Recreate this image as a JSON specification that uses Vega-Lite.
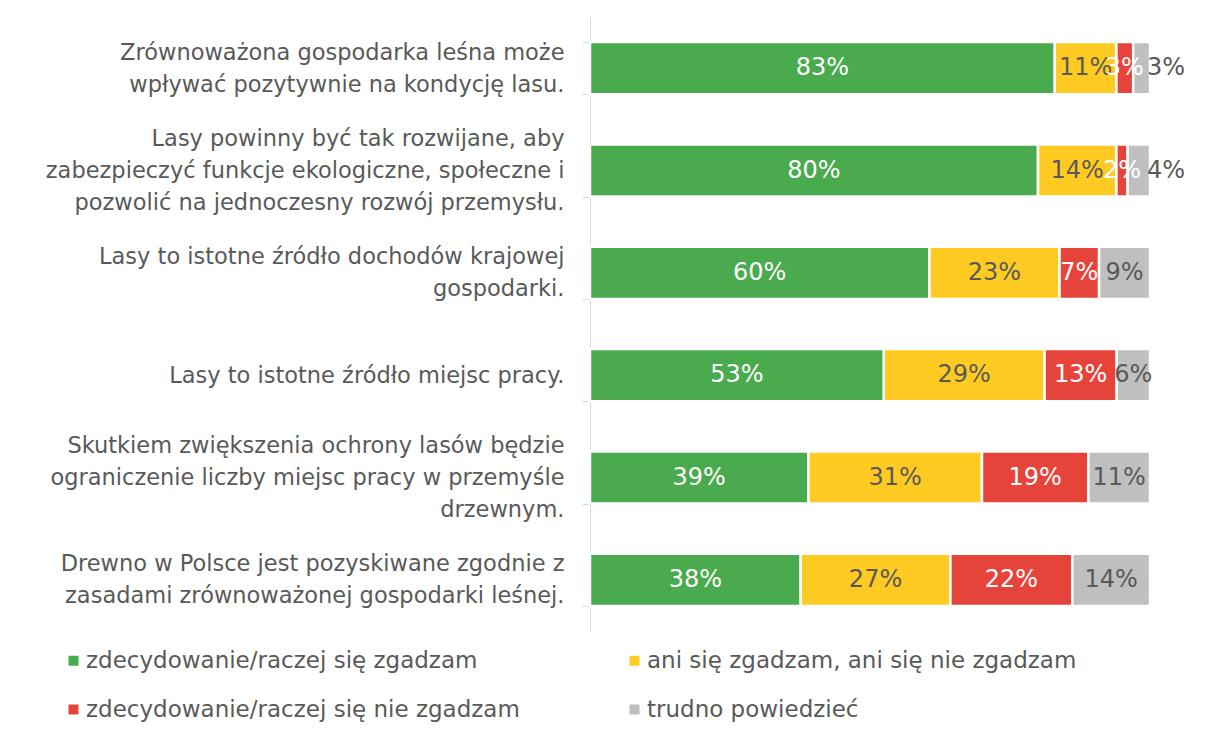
{
  "$schema": "https://vega.github.io/schema/vega-lite/v6.json",
  "autosize": "none",
  "width": 560,
  "height": 614,
  "padding": {"left": 590, "top": 17, "right": 55, "bottom": 106},
  "background": "white",
  "config": {"view": {"stroke": null}, "font": "DejaVu Sans"},
  "data": {"values": [
    {"statement": "Zrównoważona gospodarka leśna może|wpływać pozytywnie na kondycję lasu.", "cat": "zdecydowanie/raczej się zgadzam", "k": 1, "value": 83},
    {"statement": "Zrównoważona gospodarka leśna może|wpływać pozytywnie na kondycję lasu.", "cat": "ani się zgadzam, ani się nie zgadzam", "k": 2, "value": 11},
    {"statement": "Zrównoważona gospodarka leśna może|wpływać pozytywnie na kondycję lasu.", "cat": "zdecydowanie/raczej się nie zgadzam", "k": 3, "value": 3},
    {"statement": "Zrównoważona gospodarka leśna może|wpływać pozytywnie na kondycję lasu.", "cat": "trudno powiedzieć", "k": 4, "value": 3},
    {"statement": "Lasy powinny być tak rozwijane, aby|zabezpieczyć funkcje ekologiczne, społeczne i|pozwolić na jednoczesny rozwój przemysłu.", "cat": "zdecydowanie/raczej się zgadzam", "k": 1, "value": 80},
    {"statement": "Lasy powinny być tak rozwijane, aby|zabezpieczyć funkcje ekologiczne, społeczne i|pozwolić na jednoczesny rozwój przemysłu.", "cat": "ani się zgadzam, ani się nie zgadzam", "k": 2, "value": 14},
    {"statement": "Lasy powinny być tak rozwijane, aby|zabezpieczyć funkcje ekologiczne, społeczne i|pozwolić na jednoczesny rozwój przemysłu.", "cat": "zdecydowanie/raczej się nie zgadzam", "k": 3, "value": 2},
    {"statement": "Lasy powinny być tak rozwijane, aby|zabezpieczyć funkcje ekologiczne, społeczne i|pozwolić na jednoczesny rozwój przemysłu.", "cat": "trudno powiedzieć", "k": 4, "value": 4},
    {"statement": "Lasy to istotne źródło dochodów krajowej|gospodarki.", "cat": "zdecydowanie/raczej się zgadzam", "k": 1, "value": 60},
    {"statement": "Lasy to istotne źródło dochodów krajowej|gospodarki.", "cat": "ani się zgadzam, ani się nie zgadzam", "k": 2, "value": 23},
    {"statement": "Lasy to istotne źródło dochodów krajowej|gospodarki.", "cat": "zdecydowanie/raczej się nie zgadzam", "k": 3, "value": 7},
    {"statement": "Lasy to istotne źródło dochodów krajowej|gospodarki.", "cat": "trudno powiedzieć", "k": 4, "value": 9},
    {"statement": "Lasy to istotne źródło miejsc pracy.", "cat": "zdecydowanie/raczej się zgadzam", "k": 1, "value": 53},
    {"statement": "Lasy to istotne źródło miejsc pracy.", "cat": "ani się zgadzam, ani się nie zgadzam", "k": 2, "value": 29},
    {"statement": "Lasy to istotne źródło miejsc pracy.", "cat": "zdecydowanie/raczej się nie zgadzam", "k": 3, "value": 13},
    {"statement": "Lasy to istotne źródło miejsc pracy.", "cat": "trudno powiedzieć", "k": 4, "value": 6},
    {"statement": "Skutkiem zwiększenia ochrony lasów będzie|ograniczenie liczby miejsc pracy w przemyśle|drzewnym.", "cat": "zdecydowanie/raczej się zgadzam", "k": 1, "value": 39},
    {"statement": "Skutkiem zwiększenia ochrony lasów będzie|ograniczenie liczby miejsc pracy w przemyśle|drzewnym.", "cat": "ani się zgadzam, ani się nie zgadzam", "k": 2, "value": 31},
    {"statement": "Skutkiem zwiększenia ochrony lasów będzie|ograniczenie liczby miejsc pracy w przemyśle|drzewnym.", "cat": "zdecydowanie/raczej się nie zgadzam", "k": 3, "value": 19},
    {"statement": "Skutkiem zwiększenia ochrony lasów będzie|ograniczenie liczby miejsc pracy w przemyśle|drzewnym.", "cat": "trudno powiedzieć", "k": 4, "value": 11},
    {"statement": "Drewno w Polsce jest pozyskiwane zgodnie z|zasadami zrównoważonej gospodarki leśnej.", "cat": "zdecydowanie/raczej się zgadzam", "k": 1, "value": 38},
    {"statement": "Drewno w Polsce jest pozyskiwane zgodnie z|zasadami zrównoważonej gospodarki leśnej.", "cat": "ani się zgadzam, ani się nie zgadzam", "k": 2, "value": 27},
    {"statement": "Drewno w Polsce jest pozyskiwane zgodnie z|zasadami zrównoważonej gospodarki leśnej.", "cat": "zdecydowanie/raczej się nie zgadzam", "k": 3, "value": 22},
    {"statement": "Drewno w Polsce jest pozyskiwane zgodnie z|zasadami zrównoważonej gospodarki leśnej.", "cat": "trudno powiedzieć", "k": 4, "value": 14}
  ]},
  "transform": [
    {"stack": "value", "groupby": ["statement"], "sort": [{"field": "k"}], "offset": "normalize", "as": ["v0", "v1"]},
    {"calculate": "(datum.v0 + datum.v1) / 2", "as": "mid"},
    {"calculate": "datum.value + '%'", "as": "label"}
  ],
  "encoding": {
    "y": {
      "field": "statement", "type": "nominal", "sort": null, "title": null,
      "scale": {"paddingInner": 0.49, "paddingOuter": 0.245},
      "axis": {
        "labelExpr": "split(datum.label, '|')",
        "labelFont": "DejaVu Sans", "labelFontSize": 22.5, "labelColor": "#595959",
        "labelLineHeight": 32, "labelPadding": 18, "labelLimit": 600,
        "labelOffset": {
          "condition": [
            {"test": "length(split(datum.value, '|')) == 3", "value": -32},
            {"test": "length(split(datum.value, '|')) == 2", "value": -16}
          ],
          "value": 0
        },
        "domainColor": "#d9d9d9", "tickColor": "#d9d9d9", "tickSize": 8,
        "tickBand": "extent"
      }
    }
  },
  "layer": [
    {
      "mark": {"type": "bar", "stroke": "white", "strokeWidth": 2.5},
      "encoding": {
        "x": {"field": "v0", "type": "quantitative", "scale": {"domain": [0, 1], "nice": false}, "axis": null},
        "x2": {"field": "v1"},
        "color": {
          "field": "cat", "type": "nominal", "title": null,
          "scale": {
            "domain": ["zdecydowanie/raczej się zgadzam", "ani się zgadzam, ani się nie zgadzam", "zdecydowanie/raczej się nie zgadzam", "trudno powiedzieć"],
            "range": ["#4aaa4e", "#ffca22", "#e6443a", "#bfbfbf"]
          },
          "legend": {
            "orient": "none", "legendX": -528, "legendY": 632, "columns": 2,
            "direction": "horizontal",
            "symbolType": "square", "symbolSize": 100, "symbolStrokeWidth": 0,
            "labelFont": "DejaVu Sans", "labelFontSize": 23, "labelColor": "#595959",
            "labelOffset": 1, "rowPadding": 25, "columnPadding": 103, "labelLimit": 600
          }
        }
      }
    },
    {
      "transform": [{"filter": "!(datum.k == 4 && datum.value < 5)"}],
      "mark": {"type": "text", "font": "DejaVu Sans", "fontSize": 24, "align": "center", "baseline": "middle"},
      "encoding": {
        "x": {"field": "mid", "type": "quantitative"},
        "text": {"field": "label"},
        "color": {"condition": {"test": "datum.k == 1 || datum.k == 3", "value": "white"}, "value": "#595959"}
      }
    },
    {
      "transform": [{"filter": "datum.k == 4 && datum.value < 5"}],
      "mark": {"type": "text", "font": "DejaVu Sans", "fontSize": 24, "align": "left", "baseline": "middle", "dx": -3, "color": "#595959"},
      "encoding": {
        "x": {"field": "v1", "type": "quantitative"},
        "text": {"field": "label"}
      }
    }
  ]
}
